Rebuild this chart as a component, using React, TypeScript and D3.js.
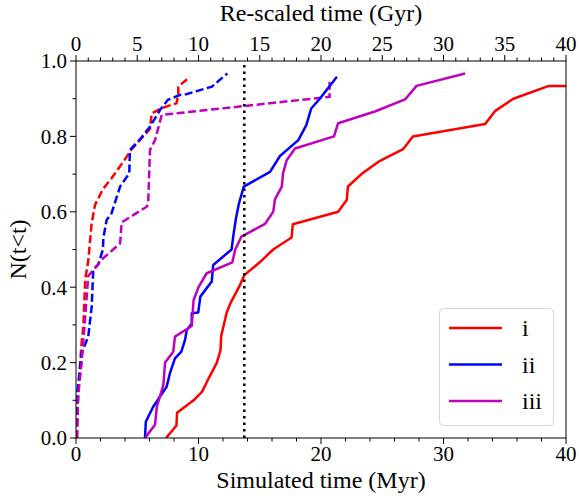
import React from "react";
import * as d3 from "d3";

const W = 579;
const H = 496;
const M = { left: 76, right: 566, top: 61, bottom: 438 };

// Series i (solid) – simulated time (Myr) vs N(t<t)
const iX = [7.35, 8.2, 8.25, 9.6, 10.3, 10.9, 11.5, 11.8, 11.85, 12.3, 12.6, 13.3, 13.74, 15.0, 16.1, 17.6, 17.7, 21.4, 22.1, 22.2, 23.3, 24.7, 26.7, 27.5, 33.4, 34.2, 35.7, 38.6, 40.5];
const iY = [0.0, 0.033, 0.067, 0.1, 0.123, 0.163, 0.2, 0.233, 0.27, 0.333, 0.357, 0.4, 0.432, 0.466, 0.5, 0.532, 0.567, 0.6, 0.631, 0.667, 0.7, 0.733, 0.766, 0.8, 0.833, 0.867, 0.9, 0.934, 0.934];

// Series ii (solid)
const iiX = [5.63, 5.7, 6.3, 6.86, 7.4, 7.67, 8.08, 8.6, 8.9, 9.04, 9.45, 9.45, 9.98, 10.15, 11.08, 11.2, 12.7, 12.85, 13.06, 13.3, 13.7, 15.84, 16.65, 18.15, 18.8, 19.2, 19.9, 21.3];
const iiY = [0.0, 0.043, 0.083, 0.11, 0.136, 0.172, 0.211, 0.229, 0.26, 0.286, 0.304, 0.331, 0.333, 0.375, 0.415, 0.459, 0.5, 0.538, 0.583, 0.622, 0.667, 0.706, 0.748, 0.79, 0.83, 0.874, 0.9, 0.958];

// Series iii (solid)
const iiiX = [5.63, 6.45, 6.6, 7.13, 7.27, 7.94, 8.08, 9.45, 9.6, 10.0, 10.67, 12.76, 13.0, 13.5, 15.43, 16.1, 16.24, 16.8, 16.9, 17.2, 17.88, 21.06, 21.4, 24.4, 26.86, 27.8, 31.76];
const iiiY = [0.0, 0.035, 0.083, 0.14, 0.2, 0.229, 0.269, 0.297, 0.366, 0.4, 0.437, 0.466, 0.5, 0.534, 0.568, 0.6, 0.633, 0.667, 0.702, 0.737, 0.768, 0.8, 0.835, 0.866, 0.898, 0.934, 0.967];

// Re-scaled series (dashed) – re-scaled time (Gyr)
const iSX = [0.1, 0.15, 0.27, 0.45, 0.6, 0.75, 1.0, 1.28, 1.55, 2.2, 2.9, 3.87, 4.5, 6.04, 6.18, 7.0, 8.2, 8.35, 8.35, 9.3];
const iSY = [0.0, 0.1, 0.163, 0.25, 0.295, 0.42, 0.47, 0.57, 0.618, 0.66, 0.689, 0.733, 0.764, 0.82, 0.861, 0.875, 0.888, 0.91, 0.932, 0.958];

const iiSX = [0.0, 0.1, 0.46, 1.0, 1.28, 1.41, 1.8, 2.2, 2.23, 2.5, 2.9, 3.6, 4.35, 4.4, 5.22, 6.04, 6.86, 7.5, 8.5, 9.0, 11.1, 12.35];
const iiSY = [0.0, 0.118, 0.225, 0.269, 0.348, 0.446, 0.459, 0.5, 0.53, 0.578, 0.596, 0.667, 0.702, 0.764, 0.792, 0.826, 0.87, 0.897, 0.91, 0.912, 0.932, 0.967];

const iiiSX = [0.05, 0.2, 0.46, 0.73, 1.0, 2.23, 3.6, 3.73, 5.8, 5.9, 6.04, 6.45, 7.0, 20.7, 20.7];
const iiiSY = [0.0, 0.12, 0.2, 0.313, 0.43, 0.477, 0.516, 0.572, 0.614, 0.631, 0.764, 0.79, 0.857, 0.905, 0.95];

const ageLine = 13.74;

const xTicksBottom = [0, 10, 20, 30, 40];
const xTicksTop = [0, 5, 10, 15, 20, 25, 30, 35, 40];
const yTicks = [0, 0.2, 0.4, 0.6, 0.8, 1.0];

const seriesNames = ["i", "ii", "iii"];
const colors = ["#ff0000", "#0000ff", "#bf00bf"];

const FONT = '"Liberation Serif", monospace';

export default function App() {
  const x = d3.scaleLinear().domain([0, 40]).range([M.left, M.right]);
  const y = d3.scaleLinear().domain([0, 1]).range([M.bottom, M.top]);
  const line = d3
    .line<[number, number]>()
    .x((d) => x(d[0]))
    .y((d) => y(d[1]));
  const zip = (a: number[], b: number[]) => a.map((v, i) => [v, b[i]] as [number, number]);

  const solid = [zip(iX, iY), zip(iiX, iiY), zip(iiiX, iiiY)];
  const dashed = [zip(iSX, iSY), zip(iiSX, iiSY), zip(iiiSX, iiiSY)];

  const bottomMinor = d3.range(0, 40.01, 2);
  const topMinor = d3.range(0, 40.01, 1);
  const yMinor = d3.range(0, 1.001, 0.1);
  const tickFs = 21;
  const labFs = 24;
  const T = (props: any) => <text fontFamily={FONT} style={{ fontFamily: FONT }} {...props} />;

  return (
    <svg width={W} height={H} fontFamily={FONT} style={{ position: "absolute", left: 0, top: 0, display: "block", fontFamily: FONT }}>
      <style>{`text { font-family: "Liberation Serif", monospace !important; }`}</style>
      <rect x={0} y={0} width={W} height={H} fill="#fff" />
      <defs>
        <clipPath id="plotclip">
          <rect x={M.left} y={M.top} width={M.right - M.left} height={M.bottom - M.top} />
        </clipPath>
      </defs>
      <g clipPath="url(#plotclip)">
        {dashed.map((d, i) => (
          <path key={"d" + i} d={line(d) || ""} fill="none" stroke={colors[i]} strokeWidth={2.5} strokeDasharray="8,3.5" />
        ))}
        {solid.map((d, i) => (
          <path key={"s" + i} d={line(d) || ""} fill="none" stroke={colors[i]} strokeWidth={2.5} strokeLinejoin="round" />
        ))}
        <line x1={x(ageLine)} x2={x(ageLine)} y1={y(0)} y2={y(1)} stroke="#000" strokeWidth={2.5} strokeDasharray="2.5,4" />
      </g>
      <rect x={M.left} y={M.top} width={M.right - M.left} height={M.bottom - M.top} fill="none" stroke="#000" strokeWidth={1} />
      {bottomMinor.map((t) => (
        <line key={"bm" + t} x1={x(t)} x2={x(t)} y1={M.bottom} y2={M.bottom + (t % 10 === 0 ? 6 : 3.5)} stroke="#000" strokeWidth={1} />
      ))}
      {xTicksBottom.map((t) => (
        <T key={"bt" + t} x={x(t)} y={M.bottom + 23} fontSize={tickFs} textAnchor="middle">{t}</T>
      ))}
      {topMinor.map((t) => (
        <line key={"tm" + t} x1={x(t)} x2={x(t)} y1={M.top} y2={M.top - (t % 5 === 0 ? 6 : 3.5)} stroke="#000" strokeWidth={1} />
      ))}
      {xTicksTop.map((t) => (
        <T key={"tt" + t} x={x(t)} y={M.top - 10} fontSize={tickFs} textAnchor="middle">{t}</T>
      ))}
      {yMinor.map((t, i) => (
        <line key={"ym" + i} x1={M.left} x2={M.left - (i % 2 === 0 ? 6 : 3.5)} y1={y(t)} y2={y(t)} stroke="#000" strokeWidth={1} />
      ))}
      {yTicks.map((t) => (
        <T key={"yt" + t} x={M.left - 9} y={y(t)} dy="0.35em" fontSize={tickFs} textAnchor="end">{t.toFixed(1)}</T>
      ))}
      <T x={(M.left + M.right) / 2} y={488} fontSize={labFs} textAnchor="middle">Simulated time (Myr)</T>
      <T x={(M.left + M.right) / 2} y={21} fontSize={labFs} textAnchor="middle">Re-scaled time (Gyr)</T>
      <T transform={`translate(26, ${(M.top + M.bottom) / 2}) rotate(-90)`} fontSize={labFs} textAnchor="middle">N(t&lt;t)</T>
      <rect x={439.5} y={308.5} width={114} height={117} rx={4} fill="#fff" fillOpacity={0.8} stroke="#d6d6d6" strokeWidth={1} />
      {seriesNames.map((n, i) => (
        <g key={n}>
          <line x1={449} x2={502} y1={328 + i * 36.5} y2={328 + i * 36.5} stroke={colors[i]} strokeWidth={2.5} />
          <T x={522} y={328 + i * 36.5} dy="0.35em" fontSize={labFs}>{n}</T>
        </g>
      ))}
    </svg>
  );
}
